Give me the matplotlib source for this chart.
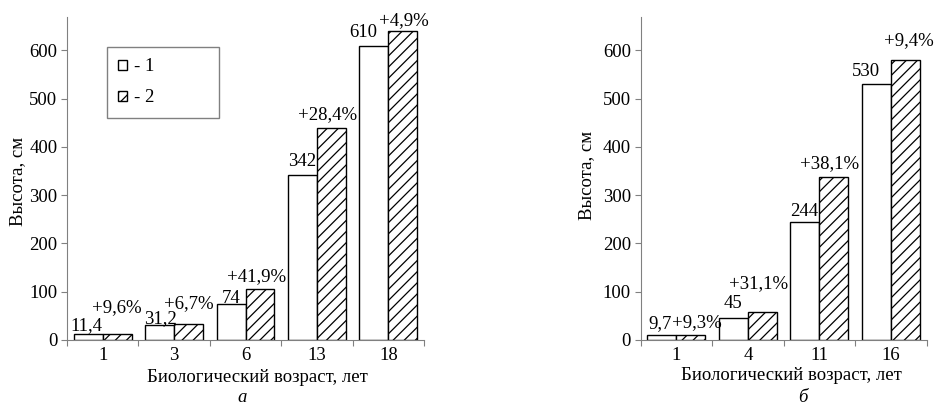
import matplotlib.pyplot as plt
import numpy as np

plt.rcParams['font.family'] = ['Liberation Serif', 'DejaVu Serif']
plt.rcParams['hatch.linewidth'] = 0.9

# panel a
ages_a = ['1', '3', '6', '13', '18']
h1_a = [11.4, 31.2, 74, 342, 610]
h2_a = [12.5, 33.3, 105.0, 439.1, 639.9]
pct_a = ['+9,6%', '+6,7%', '+41,9%', '+28,4%', '+4,9%']

# panel b
ages_b = ['1', '4', '11', '16']
h1_b = [9.7, 45, 244, 530]
h2_b = [10.6, 59.0, 337.0, 579.8]
pct_b = ['+9,3%', '+31,1%', '+38,1%', '+9,4%']

# label nudges in pixels (dx, dy above bar top)
val_nudge_a = [(-2, 9), (1, 6), (0, 6), (0, 13), (-11, 13)]
pct_nudge_a = [(0, 26), (0, 20), (-3, 13), (-4, 14), (1, 11)]
val_nudge_b = [(-2, 12), (0, 15), (-1, 11), (-10, 13)]
pct_nudge_b = [(6, 12), (-4, 28), (-4, 14), (3, 20)]

FS = 13.5
GREY = '#808080'
W = 0.406


def fmt(v):
    return ('%g' % v).replace('.', ',')


def draw(ax, ages, h1, h2, pct, vn, pn):
    x = np.arange(len(ages))
    b1 = ax.bar(x - W / 2, h1, W, color='white', edgecolor='black', linewidth=1.0, label='- 1')
    b2 = ax.bar(x + W / 2, h2, W, color='white', edgecolor='black', linewidth=1.0,
                hatch='///', label='- 2')
    for i in range(len(ages)):
        ax.annotate(fmt(h1[i]), (x[i] - W / 2, h1[i]), xytext=vn[i], textcoords='offset pixels',
                    ha='center', va='center', fontsize=FS)
        ax.annotate(pct[i], (x[i] + W / 2, h2[i]), xytext=pn[i], textcoords='offset pixels',
                    ha='center', va='center', fontsize=FS)
    ax.set_xlim(-0.5, len(ages) - 0.5)
    ax.set_ylim(0, 670)
    ax.set_yticks(range(0, 700, 100))
    # category boundaries carry the tick marks, centres carry the labels
    ax.set_xticks(np.arange(len(ages) + 1) - 0.5)
    ax.set_xticklabels([])
    ax.set_xticks(x, minor=True)
    ax.set_xticklabels(ages, minor=True, fontsize=FS)
    ax.tick_params(axis='x', which='major', length=4, color=GREY, direction='out')
    ax.tick_params(axis='x', which='minor', length=0, pad=5)
    ax.tick_params(axis='y', length=4, color=GREY, labelsize=FS, pad=3)
    for s in ['top', 'right']:
        ax.spines[s].set_visible(False)
    for s in ['left', 'bottom']:
        ax.spines[s].set_color(GREY)
    ax.set_ylabel('Высота, см', fontsize=FS, va='center')
    return b1, b2


fig = plt.figure(figsize=(9.38, 4.05), dpi=100)
ax1 = fig.add_axes([67 / 938, 65 / 405, 357 / 938, 323.3 / 405])
ax2 = fig.add_axes([640.7 / 938, 65 / 405, 286 / 938, 323.3 / 405])

b1, b2 = draw(ax1, ages_a, h1_a, h2_a, pct_a, val_nudge_a, pct_nudge_a)
draw(ax2, ages_b, h1_b, h2_b, pct_b, val_nudge_b, pct_nudge_b)

ax1.yaxis.set_label_coords(-0.137, 0.49)
ax2.yaxis.set_label_coords(-0.19, 0.51)

leg = ax1.legend([b1, b2], ['- 1', '- 2'], loc='upper left', mode='expand',
                 bbox_to_anchor=(107 / 938, 1 - 47 / 405 - 0.01, 112 / 938, 0.01),
                 bbox_transform=fig.transFigure, borderaxespad=0, fontsize=FS,
                 handlelength=0.45, handleheight=0.45, handletextpad=0.4,
                 labelspacing=0.75, borderpad=0.6, fancybox=False, framealpha=1)
leg.get_frame().set_edgecolor(GREY)
leg.get_frame().set_linewidth(1.0)

fig.text(257 / 938, 1 - 377 / 405, 'Биологический возраст, лет', ha='center', va='center', fontsize=FS)
fig.text(791.7 / 938, 1 - 375 / 405, 'Биологический возраст, лет', ha='center', va='center', fontsize=FS)
fig.text(241.7 / 938, 1 - 398 / 405, 'а', ha='center', va='center', fontsize=FS, style='italic')
fig.text(803 / 938, 1 - 398 / 405, 'б', ha='center', va='center', fontsize=FS, style='italic')

fig.savefig('out.png', dpi=100)
